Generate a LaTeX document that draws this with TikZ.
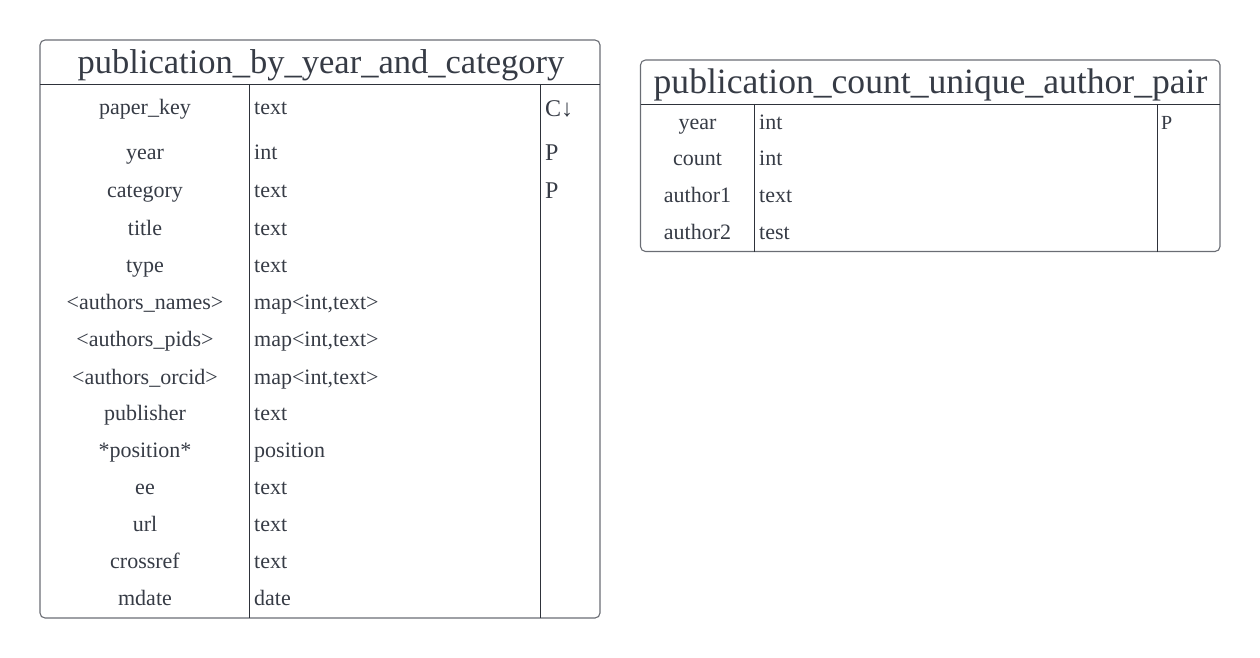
\documentclass[tikz,border=0pt]{standalone}
\usepackage{fontspec}
\setmainfont{Liberation Serif}
\definecolor{txt}{HTML}{363B45}
\definecolor{frame}{HTML}{6A6D74}
\definecolor{inner}{HTML}{2E323A}
\tikzset{
  tblframe/.style={draw=frame, line width=1.1pt, rounded corners=5pt},
  tblline/.style={draw=inner, line width=0.9pt},
  ttl/.style={text=txt, font=\fontsize{34.5}{40}\selectfont, inner sep=0pt, anchor=base},
  fname/.style={text=txt, font=\fontsize{22}{26}\selectfont, inner sep=0pt, anchor=base},
  ftype/.style={text=txt, font=\fontsize{22}{26}\selectfont, inner sep=0pt, anchor=base west},
  fkey/.style={text=txt, font=\fontsize{24}{26}\selectfont, inner sep=0pt, anchor=base west},
}
\begin{document}
\begin{tikzpicture}[x=1pt,y=-1pt]
\useasboundingbox (0,0) rectangle (1260,658);
% ---------- left table ----------
\draw[tblframe] (40,40) rectangle (600,618);
\draw[tblline] (40,84) -- (600,84);
\draw[tblline] (249.5,84) -- (249.5,618);
\draw[tblline] (540.5,84) -- (540.5,618);
\node[ttl] (t1) at (321,74) {publication\_by\_year\_and\_category};
\foreach \n/\t/\y [count=\i] in {
  paper\_key/text/107,
  year/int/151,
  category/text/189,
  title/text/227,
  type/text/264,
  <authors\_names>/map<int{,}text>/301,
  <authors\_pids>/map<int{,}text>/338,
  <authors\_orcid>/map<int{,}text>/376,
  publisher/text/412,
  *position*/position/449,
  ee/text/486,
  url/text/523,
  crossref/text/560,
  mdate/date/597}{
  \node[fname] (la\i) at (145,\y+8) {\n};
  \node[ftype] (lb\i) at (254,\y+8) {\t};
}
\node[fkey] (lk1) at (545,117) {C↓};
\node[fkey] (lk2) at (545,160) {P};
\node[fkey] (lk3) at (545,198) {P};
% ---------- right table ----------
\draw[tblframe] (640.5,60) rectangle (1220,251.5);
\draw[tblline] (640.5,104) -- (1220,104);
\draw[tblline] (754.5,104) -- (754.5,251.5);
\draw[tblline] (1157.5,104) -- (1157.5,251.5);
\node[ttl, font=\fontsize{35.6}{40}\selectfont] (t2) at (930.5,94) {publication\_count\_unique\_author\_pair};
\foreach \n/\t/\y [count=\i] in {
  year/int/121,
  count/int/157,
  author1/text/194,
  author2/test/231}{
  \node[fname] (ra\i) at (697.5,\y+8) {\n};
  \node[ftype] (rb\i) at (759,\y+8) {\t};
}
\node[ftype, font=\fontsize{20}{22}\selectfont] (rk1) at (1161,129) {P};
\end{tikzpicture}
\end{document}
